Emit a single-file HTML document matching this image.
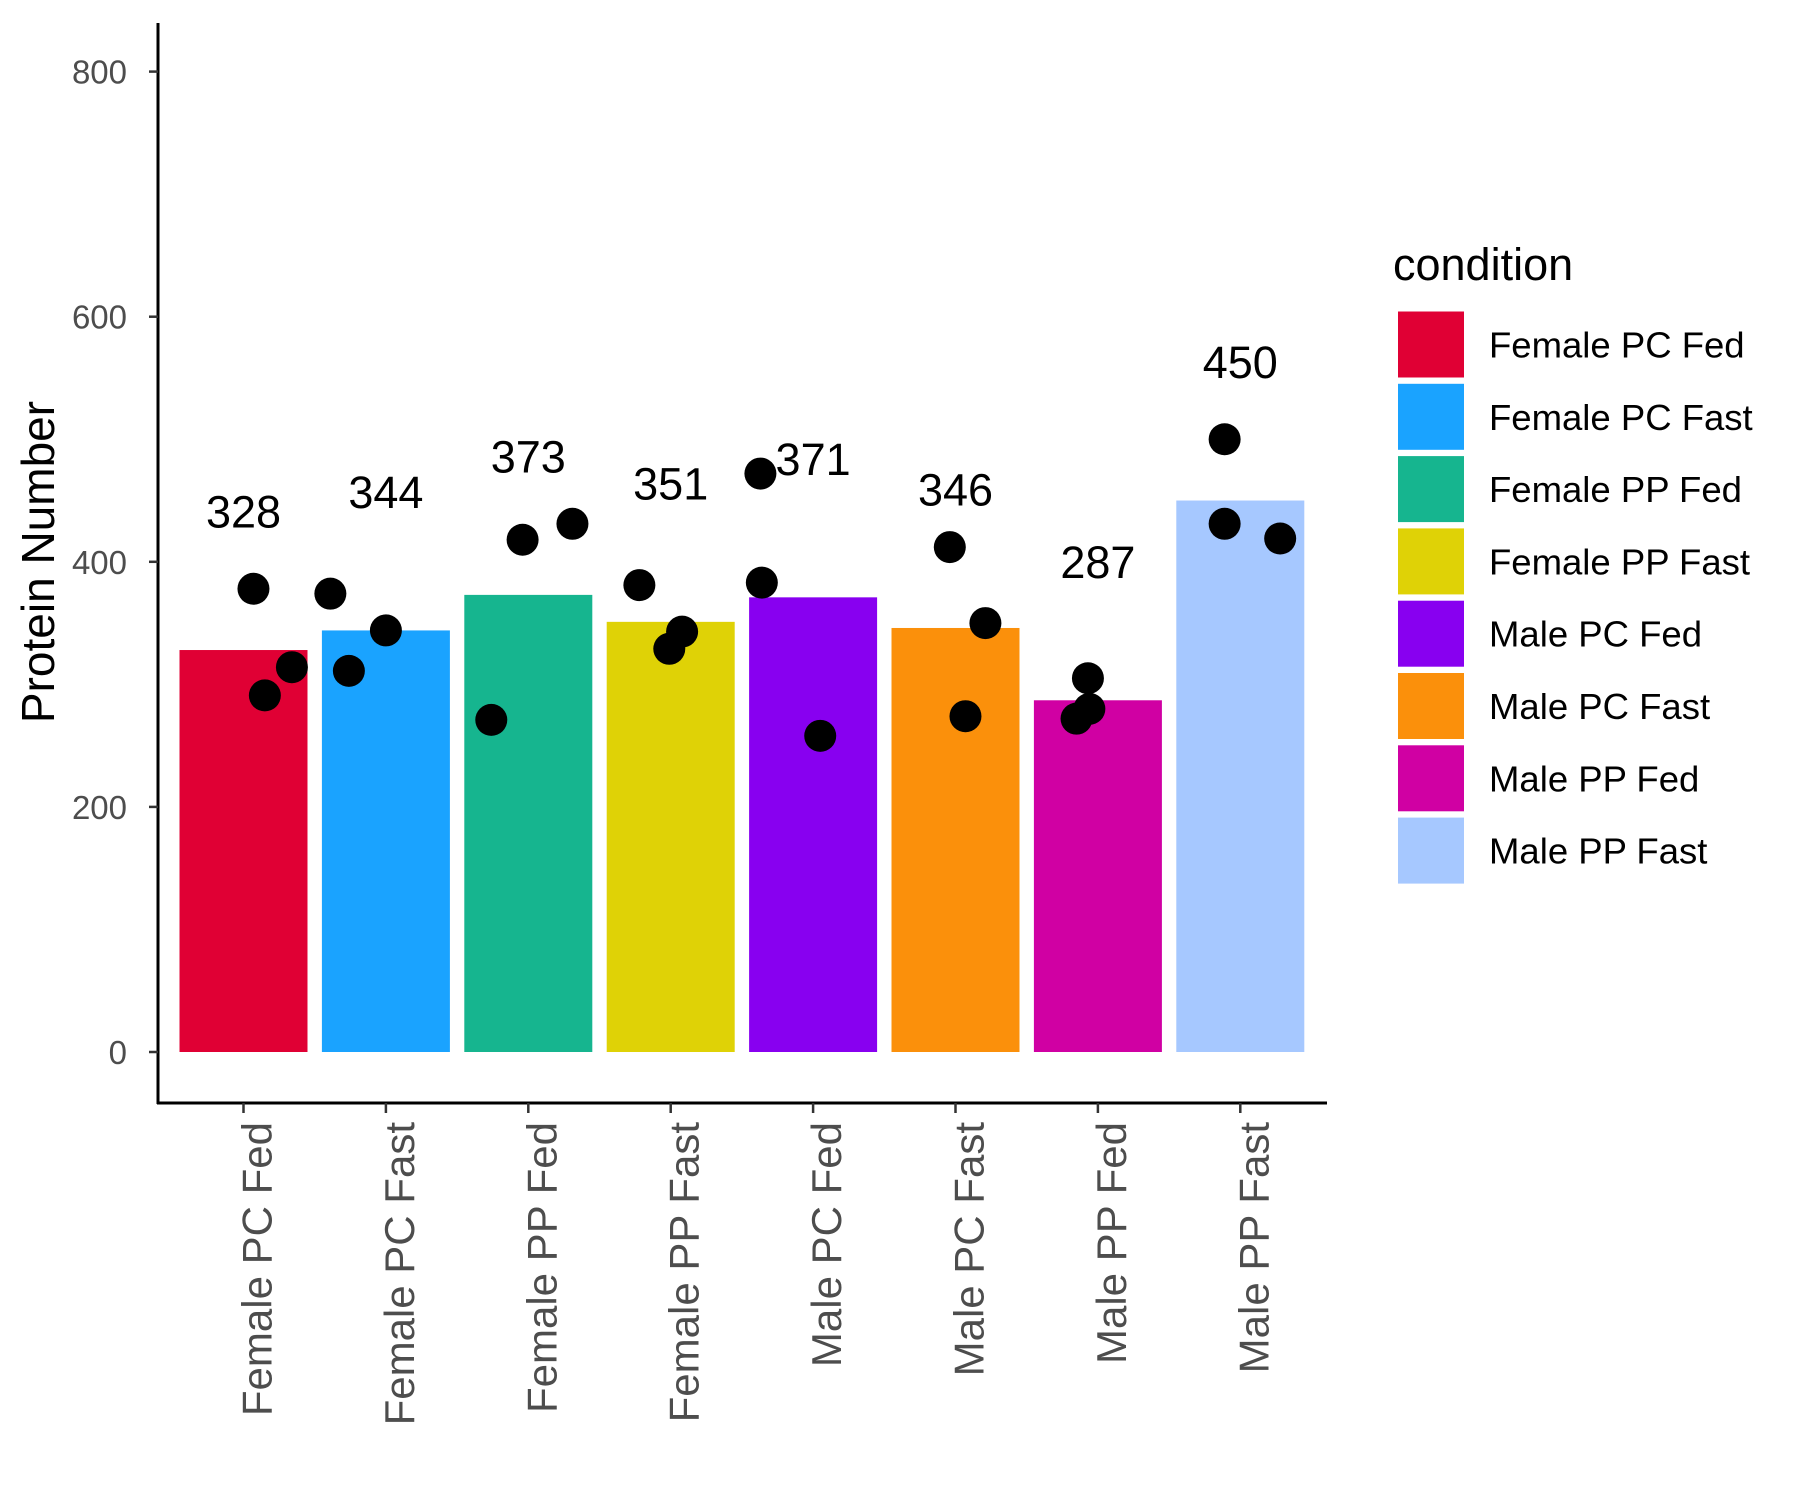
<!DOCTYPE html>
<html><head><meta charset="utf-8"><style>
body{margin:0;background:#fff}
svg{display:block;font-family:"Liberation Sans",Arial,sans-serif}
</style></head><body>
<svg id="chart" width="1800" height="1500" viewBox="0 0 1800 1500" xmlns="http://www.w3.org/2000/svg"></svg>
<script>
const categories=["Female PC Fed","Female PC Fast","Female PP Fed","Female PP Fast","Male PC Fed","Male PC Fast","Male PP Fed","Male PP Fast"];
const means=[328,344,373,351,371,346,287,450];
const colors=["#E00034","#1AA3FF","#16B58F","#DFD206","#8800F0","#FB900B","#D000A3","#A6C8FF"];
const pointValues=[[378,291,314],[374,311,344],[271,418,431],[381,329,343],[472,383,258],[412,274,350],[272,305,280],[500,431,419]];
const pointJitter=[[0.07,0.15,0.34],[-0.39,-0.26,0],[-0.26,-0.04,0.31],[-0.22,-0.01,0.08],[-0.37,-0.36,0.05],[-0.04,0.07,0.21],[-0.15,-0.07,-0.06],[-0.11,-0.11,0.28]];
const yTicks=[0,200,400,600,800];
const NS="http://www.w3.org/2000/svg";
const svg=document.getElementById('chart');
const y=v=>1052-v*1.2255;
const x=i=>243.5+i*142.4;
function mk(t,a,p){const e=document.createElementNS(NS,t);for(const k in a)e.setAttribute(k,a[k]);(p||svg).appendChild(e);return e;}
let ax=mk('line',{x1:158,y1:23,x2:158,y2:1104,stroke:'#000','stroke-width':3});


let bx=mk('line',{x1:157,y1:1103,x2:1327,y2:1103,stroke:'#000','stroke-width':3});


yTicks.forEach(v=>{
 let t=mk('line',{x1:149,x2:158,y1:y(v),y2:y(v),stroke:'#333','stroke-width':2.5});
 
 
 let l=mk('text',{x:127,y:y(v)+12,'text-anchor':'end','font-size':33,fill:'#4d4d4d'});
 l.textContent=v;
 
 
});
let yt=mk('text',{x:0,y:0,'text-anchor':'middle','font-size':46,fill:'#000',transform:'translate(54,562) rotate(-90)'});
yt.textContent='Protein Number';


categories.forEach((c,i)=>{
 let b=mk('rect',{x:x(i)-64,y:y(means[i]),width:128,height:y(0)-y(means[i]),fill:colors[i]});
 
 
 let t=mk('line',{x1:x(i),x2:x(i),y1:1103,y2:1113,stroke:'#333','stroke-width':2.5});
 
 
 let l=mk('text',{x:0,y:0,'text-anchor':'end','font-size':42,fill:'#4d4d4d',transform:`translate(${x(i)+28},1122) rotate(-90)`});
 l.textContent=c;
 
 
 let v=mk('text',{x:x(i),y:y(means[i]+113)+16,'text-anchor':'middle','font-size':45,fill:'#000'});
 v.textContent=means[i];
 
 
});
pointValues.forEach((pts,i)=>pts.forEach((pv,j)=>{
 let p=mk('circle',{cx:x(i)+pointJitter[i][j]*142.4,cy:y(pv),r:16,fill:'#000'});
 
 
}));
let lt=mk('text',{x:1393,y:280,'font-size':45,fill:'#000'});
lt.textContent='condition';


categories.forEach((c,i)=>{
 let g=mk('g',{});
 
 
 let r=mk('rect',{x:1398,y:311.5+i*72.3,width:66,height:66,fill:colors[i]},g);
 
 
 let t=mk('text',{x:1489,y:311.5+i*72.3+46,'font-size':36.5,fill:'#000'},g);
 t.textContent=c;
 
 
});
</script>
</body></html>
